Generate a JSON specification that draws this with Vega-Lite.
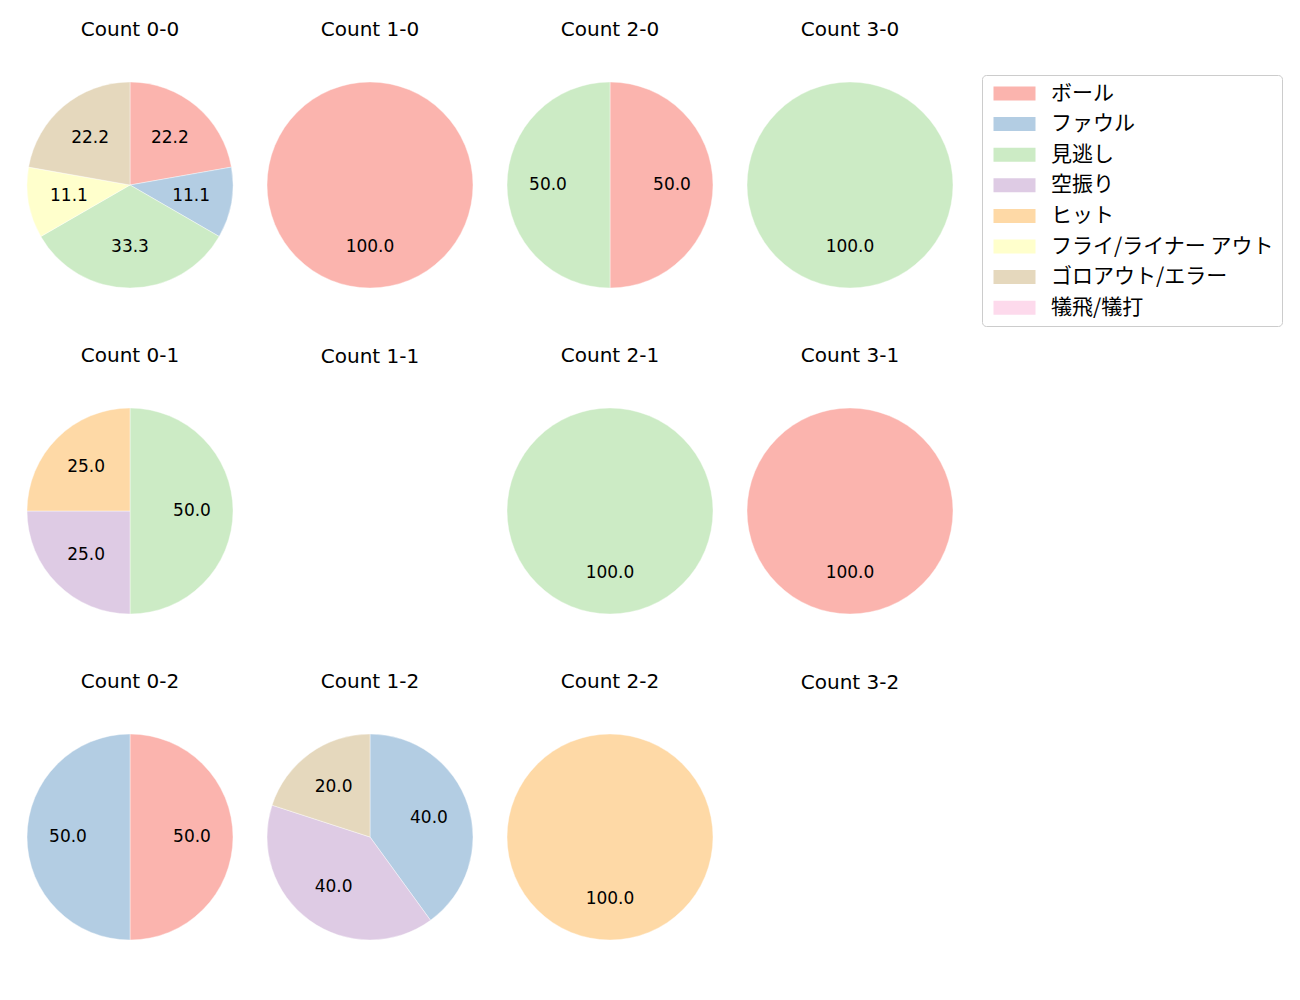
{
  "$schema": "https://vega.github.io/schema/vega-lite/v6.json",
  "padding": {"left": 26, "top": 20, "right": 5, "bottom": 5},
  "data": {"values": [
    {"c": "Count 0-0", "k": "ボール", "i": 0, "v": 22.2},
    {"c": "Count 0-0", "k": "ファウル", "i": 1, "v": 11.1},
    {"c": "Count 0-0", "k": "見逃し", "i": 2, "v": 33.3},
    {"c": "Count 0-0", "k": "フライ/ライナー アウト", "i": 5, "v": 11.1},
    {"c": "Count 0-0", "k": "ゴロアウト/エラー", "i": 6, "v": 22.2},
    {"c": "Count 1-0", "k": "ボール", "i": 0, "v": 100.0},
    {"c": "Count 2-0", "k": "ボール", "i": 0, "v": 50.0},
    {"c": "Count 2-0", "k": "見逃し", "i": 2, "v": 50.0},
    {"c": "Count 3-0", "k": "見逃し", "i": 2, "v": 100.0},
    {"c": "Count 0-1", "k": "見逃し", "i": 2, "v": 50.0},
    {"c": "Count 0-1", "k": "空振り", "i": 3, "v": 25.0},
    {"c": "Count 0-1", "k": "ヒット", "i": 4, "v": 25.0},
    {"c": "Count 1-1", "k": "ボール", "i": 0, "v": 0},
    {"c": "Count 2-1", "k": "見逃し", "i": 2, "v": 100.0},
    {"c": "Count 3-1", "k": "ボール", "i": 0, "v": 100.0},
    {"c": "Count 0-2", "k": "ボール", "i": 0, "v": 50.0},
    {"c": "Count 0-2", "k": "ファウル", "i": 1, "v": 50.0},
    {"c": "Count 1-2", "k": "ファウル", "i": 1, "v": 40.0},
    {"c": "Count 1-2", "k": "空振り", "i": 3, "v": 40.0},
    {"c": "Count 1-2", "k": "ゴロアウト/エラー", "i": 6, "v": 20.0},
    {"c": "Count 2-2", "k": "ヒット", "i": 4, "v": 100.0},
    {"c": "Count 3-2", "k": "ボール", "i": 0, "v": 0}
  ]},
  "facet": {
    "field": "c", "type": "nominal", "title": null,
    "sort": ["Count 0-0", "Count 1-0", "Count 2-0", "Count 3-0", "Count 0-1", "Count 1-1", "Count 2-1", "Count 3-1", "Count 0-2", "Count 1-2", "Count 2-2", "Count 3-2"],
    "header": {"labelFontSize": 20, "labelFont": "DejaVu Sans", "labelColor": "#000000", "labelBaseline": "middle", "labelPadding": 31}
  },
  "columns": 4,
  "spacing": {"row": 57, "column": 32},
  "spec": {
    "width": 206,
    "height": 206,
    "layer": [
      {
        "transform": [{"filter": "datum.v > 0"}],
        "mark": {"type": "arc", "outerRadius": 103, "stroke": "#ffffff", "strokeWidth": 0.4},
        "encoding": {
          "theta": {"field": "v", "type": "quantitative", "stack": true},
          "order": {"field": "i", "type": "quantitative"},
          "color": {
            "field": "k", "type": "nominal",
            "scale": {
              "domain": ["ボール", "ファウル", "見逃し", "空振り", "ヒット", "フライ/ライナー アウト", "ゴロアウト/エラー", "犠飛/犠打"],
              "range": ["#fbb4ae", "#b3cde3", "#ccebc5", "#decbe4", "#fed9a6", "#ffffcc", "#e5d8bd", "#fddaec"]
            },
            "legend": {
              "title": null,
              "orient": "none",
              "legendX": 955,
              "legendY": -7,
              "symbolType": "M-1,-1H5V1H-1Z",
              "symbolSize": 196,
              "symbolStrokeWidth": 0,
              "symbolOpacity": 1,
              "labelOffset": 40,
              "labelFontSize": 21,
              "labelFont": "Noto Sans CJK JP",
              "labelColor": "#000000",
              "rowPadding": 8.6,
              "padding": 8,
              "strokeColor": "#cccccc",
              "fillColor": "#ffffff",
              "cornerRadius": 4,
              "labelLimit": 400
            }
          }
        }
      },
      {
        "transform": [{"filter": "datum.v > 0"}],
        "mark": {"type": "text", "radius": 62, "fontSize": 17, "font": "DejaVu Sans", "color": "#000000"},
        "encoding": {
          "theta": {"field": "v", "type": "quantitative", "stack": true},
          "order": {"field": "i", "type": "quantitative"},
          "text": {"field": "v", "type": "quantitative", "format": ".1f"}
        }
      }
    ]
  },
  "resolve": {"scale": {"theta": "independent"}},
  "config": {"view": {"stroke": null}}
}
